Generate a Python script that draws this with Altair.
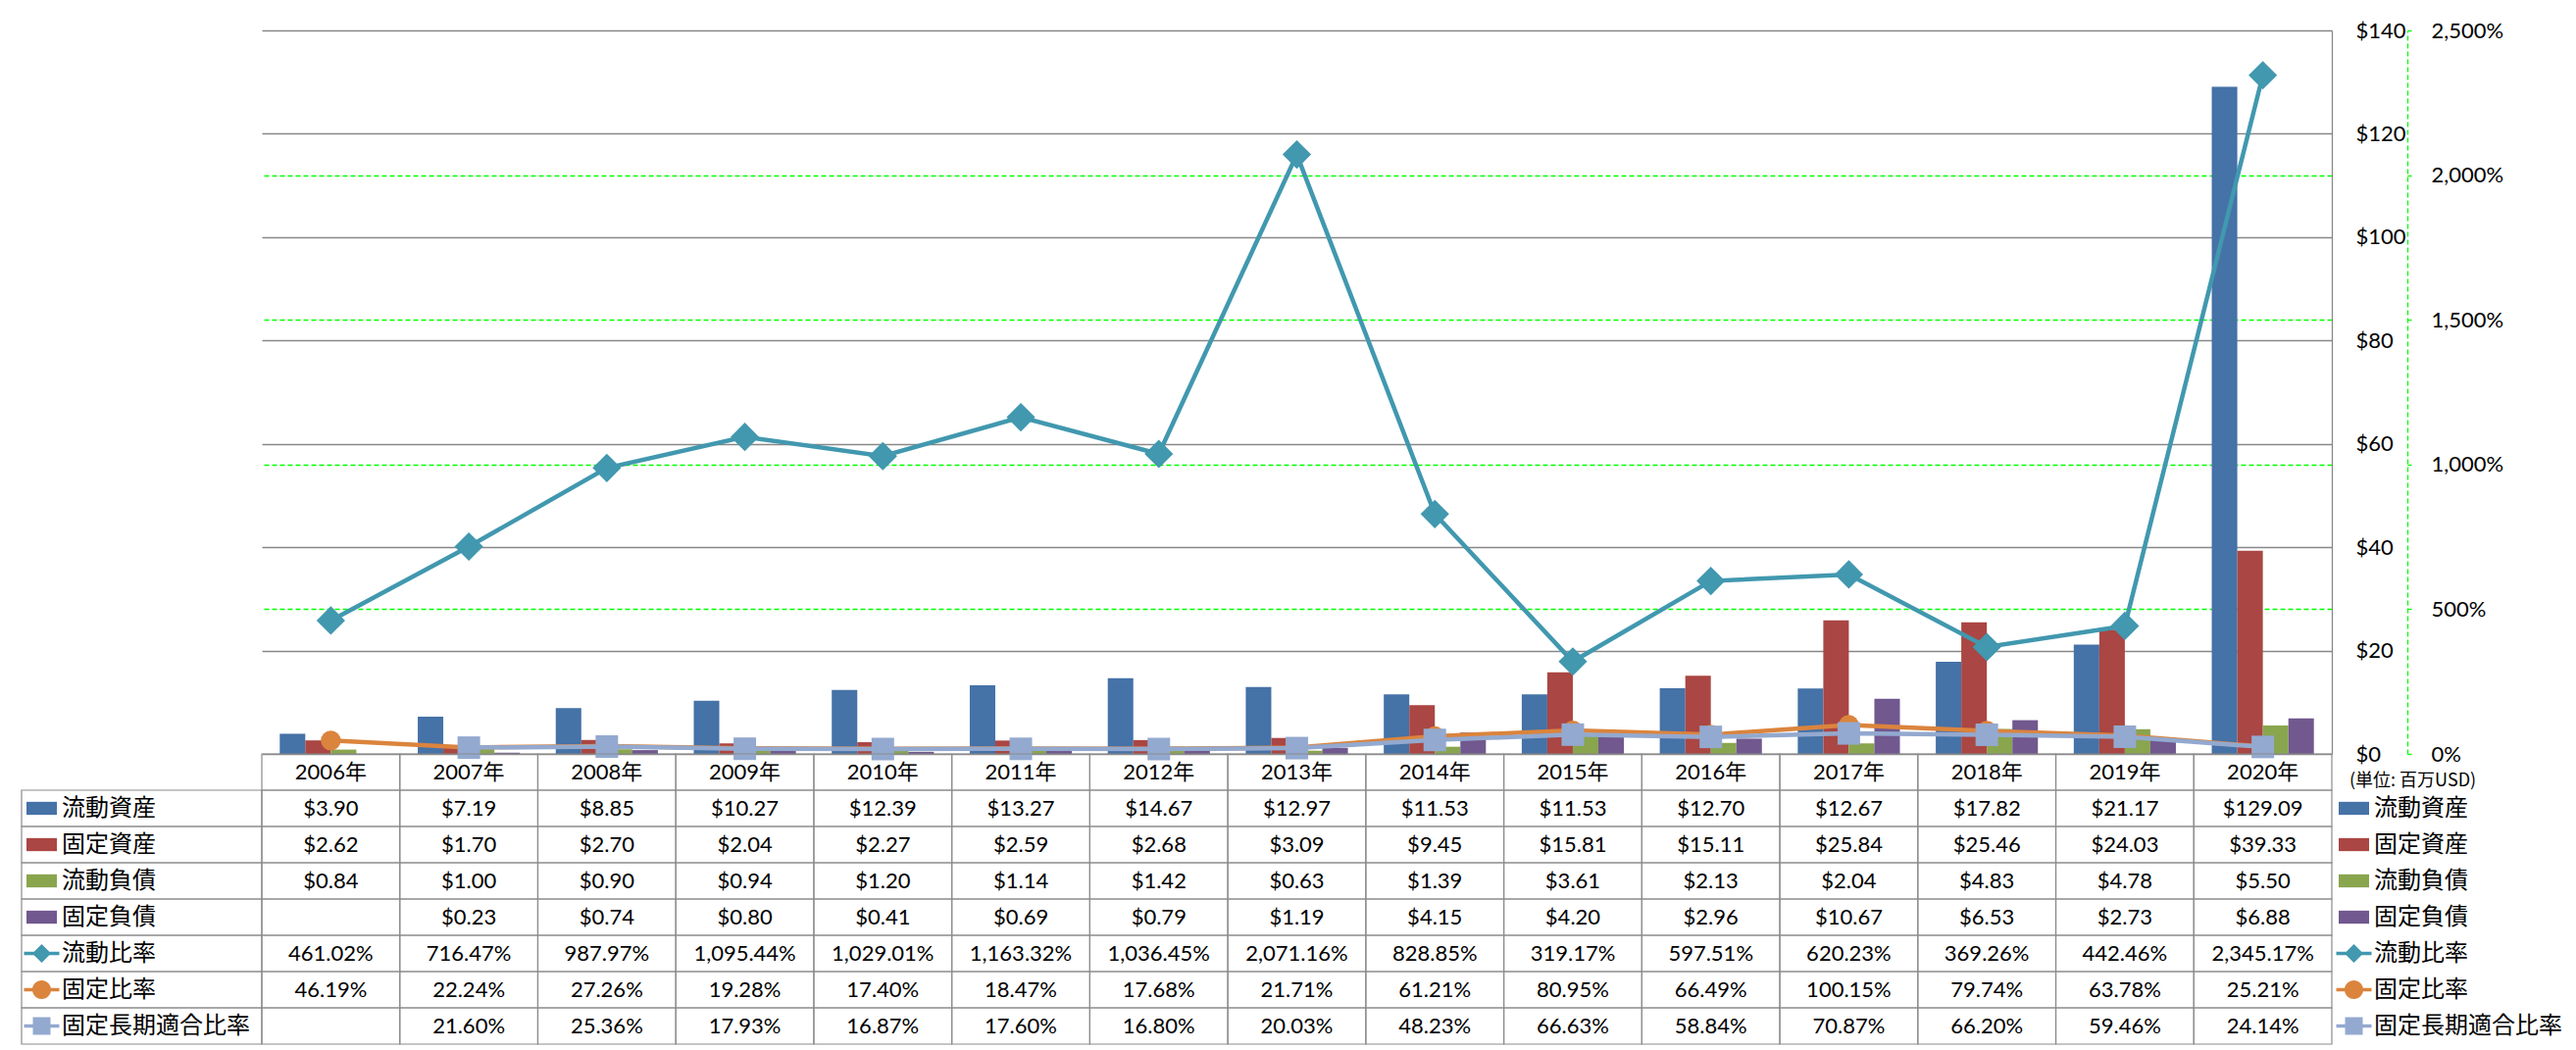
import altair as alt
import pandas as pd

# ---------------- data ----------------
years = [f"{y}年" for y in range(2006, 2021)]

current_assets = [3.90, 7.19, 8.85, 10.27, 12.39, 13.27, 14.67, 12.97, 11.53, 11.53, 12.70, 12.67, 17.82, 21.17, 129.09]
fixed_assets = [2.62, 1.70, 2.70, 2.04, 2.27, 2.59, 2.68, 3.09, 9.45, 15.81, 15.11, 25.84, 25.46, 24.03, 39.33]
current_liab = [0.84, 1.00, 0.90, 0.94, 1.20, 1.14, 1.42, 0.63, 1.39, 3.61, 2.13, 2.04, 4.83, 4.78, 5.50]
fixed_liab = [None, 0.23, 0.74, 0.80, 0.41, 0.69, 0.79, 1.19, 4.15, 4.20, 2.96, 10.67, 6.53, 2.73, 6.88]
current_ratio = [461.02, 716.47, 987.97, 1095.44, 1029.01, 1163.32, 1036.45, 2071.16, 828.85, 319.17, 597.51, 620.23, 369.26, 442.46, 2345.17]
fixed_ratio = [46.19, 22.24, 27.26, 19.28, 17.40, 18.47, 17.68, 21.71, 61.21, 80.95, 66.49, 100.15, 79.74, 63.78, 25.21]
fixed_lt_ratio = [None, 21.60, 25.36, 17.93, 16.87, 17.60, 16.80, 20.03, 48.23, 66.63, 58.84, 70.87, 66.20, 59.46, 24.14]

bar_series = ["流動資産", "固定資産", "流動負債", "固定負債"]
line_series = ["流動比率", "固定比率", "固定長期適合比率"]
all_series = bar_series + line_series
bar_values = [current_assets, fixed_assets, current_liab, fixed_liab]
line_values = [current_ratio, fixed_ratio, fixed_lt_ratio]

colors = ["#4572A7", "#AA4643", "#89A54E", "#71588F", "#4198AF", "#DB843D", "#93A9CF"]
unit_label = "(単位: 百万USD)"

# ---------------- layout / style ----------------
W, H = 2111, 738
R = 37
LW, RW = 245, 240
NUM_FONT = "Lato, 'Noto Sans CJK JP'"
JP_FONT = "'Noto Sans CJK JP'"
GRID_GREY = "#878787"
TABLE_GREY = "#8c8c8c"
GREEN = "#00FF00"

# legend key shapes (custom symbol paths, unit square -1..1)
rect_key = "M-0.86,-0.37H0.86V0.37H-0.86Z"
line_parts = "M-1,-0.1H-0.3V0.1H-1Z M0.3,-0.1H1V0.1H0.3Z "
diamond_key = line_parts + "M0,-0.53L0.53,0L0,0.53L-0.53,0Z"
circle_key = line_parts + "M-0.53,0A0.53,0.53 0 1 1 0.53,0A0.53,0.53 0 1 1 -0.53,0Z"
square_key = line_parts + "M-0.5,-0.5H0.5V0.5H-0.5Z"
key_shapes = [rect_key] * 4 + [diamond_key, circle_key, square_key]

# ---------------- frames ----------------
bar_rows = []
for s, vals in zip(bar_series, bar_values):
    for y, v in zip(years, vals):
        if v is not None:
            bar_rows.append({"year": y, "series": s, "value": v})
bar_df = pd.DataFrame(bar_rows)

x_top = alt.X("year:N", sort=years,
              scale=alt.Scale(domain=years, paddingInner=0.26, paddingOuter=0.13),
              axis=None)

y_money = alt.Y("value:Q", scale=alt.Scale(domain=[0, 140], nice=False),
                axis=alt.Axis(orient="right", values=list(range(0, 141, 20)),
                              labelExpr="'$' + datum.value",
                              domain=True, domainColor=GRID_GREY, domainWidth=1.3,
                              ticks=False, labelPadding=24,
                              grid=True, gridColor=GRID_GREY, gridWidth=1.3,
                              labelFont=NUM_FONT, labelFontSize=22, labelColor="black",
                              title=None))

bars = alt.Chart(bar_df).mark_bar().encode(
    x=x_top,
    xOffset=alt.XOffset("series:N", sort=bar_series, scale=alt.Scale(domain=bar_series)),
    y=y_money,
    color=alt.Color("series:N", scale=alt.Scale(domain=bar_series, range=colors[:4]), legend=None),
)

y_pct = alt.Y("value:Q", scale=alt.Scale(domain=[0, 2500], nice=False),
              axis=alt.Axis(orient="right", offset=77, values=list(range(0, 2501, 500)),
                            labelExpr="format(datum.value, ',') + '%'",
                            domain=True, domainColor=GREEN, domainDash=[5, 3], domainWidth=1.3,
                            ticks=True, tickColor=GREEN, tickSize=4, tickWidth=1.3,
                            labelPadding=20,
                            grid=True, gridColor=GREEN, gridDash=[5, 3], gridWidth=1.3,
                            gridOpacity={"condition": {"test": "datum.value == 0 || datum.value == 2500", "value": 0}, "value": 1},
                            labelFont=NUM_FONT, labelFontSize=22, labelColor="black",
                            title=None))

marker_shapes = ["diamond", "circle", "square"]
marker_sizes = [850, 415, 529]
line_layers = []
for s, vals, c, shp, sz in zip(line_series, line_values, colors[4:], marker_shapes, marker_sizes):
    df = pd.DataFrame({"year": years, "value": vals, "series": s}).dropna()
    ln = alt.Chart(df).mark_line(color=c, strokeWidth=4.5).encode(x=x_top, y=y_pct)
    pt = alt.Chart(df).mark_point(filled=True, shape=shp, size=sz, color=c, opacity=1).encode(x=x_top, y=y_pct)
    line_layers += [ln, pt]

top = alt.layer(bars, alt.layer(*line_layers)).resolve_scale(y="independent").properties(width=W, height=H)

# ---------------- table ----------------
rows = ["header"] + all_series
cells = []
for i, y in enumerate(years):
    cells.append({"year": y, "row": "header", "label": y})
    for s, vals in zip(bar_series, bar_values):
        v = vals[i]
        cells.append({"year": y, "row": s, "label": "" if v is None else f"${v:.2f}"})
    for s, vals in zip(line_series, line_values):
        v = vals[i]
        cells.append({"year": y, "row": s, "label": "" if v is None else f"{v:,.2f}%"})
cell_df = pd.DataFrame(cells)

x_tab = alt.X("year:N", sort=years, scale=alt.Scale(domain=years, paddingInner=0, paddingOuter=0), axis=None)
y_tab = alt.Y("row:N", sort=rows, scale=alt.Scale(domain=rows, paddingInner=0, paddingOuter=0), axis=None)

tab_base = alt.Chart(cell_df).encode(x=x_tab, y=y_tab)
table = alt.layer(
    tab_base.mark_rect(fillOpacity=0, stroke=TABLE_GREY, strokeWidth=1.2),
    tab_base.mark_text(font=NUM_FONT, fontSize=22, color="black").encode(text="label:N"),
).properties(width=W, height=8 * R)

key_df = pd.DataFrame({"row": all_series, "series": all_series, "col": "c"})
key_color = alt.Color("series:N", scale=alt.Scale(domain=all_series, range=colors), legend=None)
key_shape = alt.Shape("series:N", scale=alt.Scale(domain=all_series, range=key_shapes), legend=None)

lab_base = alt.Chart(key_df).encode(y=y_tab)
labcol = alt.layer(
    lab_base.mark_rect(fillOpacity=0, stroke=TABLE_GREY, strokeWidth=1.2).encode(
        x=alt.X("col:N", axis=None, scale=alt.Scale(paddingInner=0, paddingOuter=0))),
    lab_base.mark_point(filled=True, opacity=1, size=1296).encode(
        x=alt.value(20.5), color=key_color, shape=key_shape),
    lab_base.mark_text(font=JP_FONT, fontSize=24, color="black", align="left").encode(
        x=alt.value(41), text="series:N"),
).properties(width=LW, height=8 * R)

unit_df = pd.DataFrame({"row": ["header"], "label": [unit_label]})
legcol = alt.layer(
    lab_base.mark_point(filled=True, opacity=1, size=1296).encode(
        x=alt.value(22.5), color=key_color, shape=key_shape),
    lab_base.mark_text(font=JP_FONT, fontSize=24, color="black", align="left").encode(
        x=alt.value(43), text="series:N"),
    alt.Chart(unit_df).mark_text(font=JP_FONT, fontSize=18, color="black", align="left", dy=9).encode(
        x=alt.value(18), y=y_tab, text="label:N"),
).properties(width=RW, height=8 * R)

spacer_df = pd.DataFrame({"a": [0]})
spacerL = alt.Chart(spacer_df).mark_point(opacity=0).properties(width=LW, height=H)
spacerR = alt.Chart(spacer_df).mark_point(opacity=0).properties(width=RW, height=H)

chart = alt.concat(
    spacerL, top, spacerR,
    labcol, table, legcol,
    columns=3, spacing=0,
).resolve_scale(
    color="independent", shape="independent"
).properties(
    bounds="flush",
    padding={"left": 13, "top": 12, "right": 0, "bottom": 0},
    background="white",
).configure_view(stroke=None)

chart.save("out.html", embed_options={"renderer": "svg", "actions": False})
